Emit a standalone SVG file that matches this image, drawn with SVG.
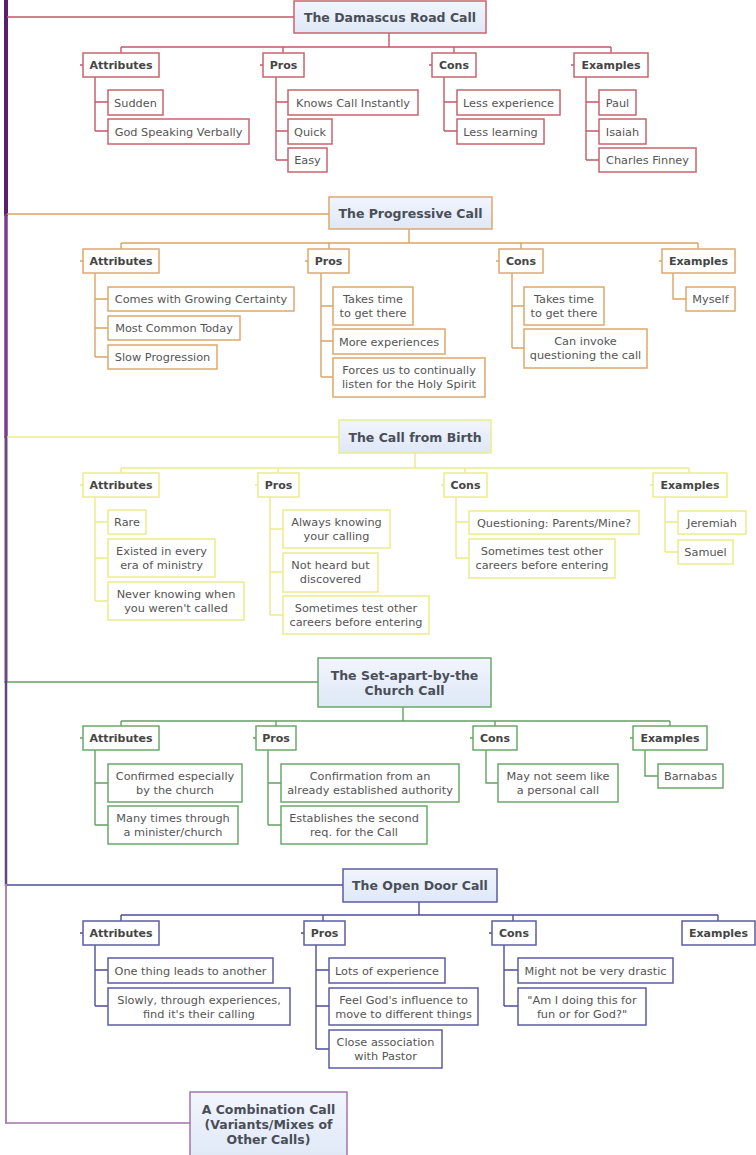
<svg xmlns="http://www.w3.org/2000/svg" width="756" height="1155" viewBox="0 0 756 1155">
<defs>
<linearGradient id="mainFill" x1="0" y1="0" x2="0" y2="1">
<stop offset="0" stop-color="#f1f5fd"/>
<stop offset="1" stop-color="#dfe8f7"/>
</linearGradient>
<style>
text{font-family:"DejaVu Sans","Verdana",sans-serif;text-anchor:middle}
.mt{font-size:12.5px;font-weight:bold;fill:#4a4e58}
.ct{font-size:11px;font-weight:bold;fill:#454545}
.lt{font-size:11.3px;fill:#555}
rect{fill:#fff;stroke-width:1.5}
rect.m{fill:url(#mainFill)}
.c1 rect{stroke:#c8646e}
.c2 rect{stroke:#dda86c}
.c3 rect{stroke:#ecec8c}
.c4 rect{stroke:#6ca86c}
.c5 rect{stroke:#5c5ca4}
.c6 rect{stroke:#a474ac}
#connectors path{fill:none;stroke-width:1.4}
#connectors .k1{stroke:#c05a66}
#connectors .k2{stroke:#d9a466}
#connectors .k3{stroke:#eaea88}
#connectors .k4{stroke:#64a064}
#connectors .k5{stroke:#4e4e98}
#connectors .k6{stroke:#a070a8}
</style>
</defs>
<rect x="0" y="0" width="756" height="1155" style="fill:#fff;stroke:none"/>

<g id="connectors">
<!-- trunk -->
<path d="M6,0 V216" style="stroke:#5a1d70;stroke-width:4"/>
<path d="M6,214 V438" style="stroke:#7c3c90;stroke-width:3.5"/>
<path d="M6,436 V683" style="stroke:#6c4a7e;stroke-width:3"/>
<path d="M6,681 V886" style="stroke:#5e4878;stroke-width:2.5"/>
<path d="M6,884 V1124" style="stroke:#a888b2;stroke-width:2"/>
<!-- section 1 -->
<path class="k1" d="M7,17 H294 M389,33 V47 M121,47 H611 M121,47 V53 M283,47 V53 M454,47 V53 M611,47 V53 M80,65 H83 M260,65 H263 M429,65 H432 M571,65 H574 M95,77 V131 M95,102 H108 M95,131 H108 M276,77 V160 M276,102 H288 M276,131 H288 M276,160 H288 M444,77 V131 M444,102 H457 M444,131 H457 M586,77 V160 M586,102 H599 M586,131 H599 M586,160 H599"/>
<!-- section 2 -->
<path class="k2" d="M7,214 H329 M409,229 V243 M121,243 H698 M121,243 V249 M329,243 V249 M521,243 V249 M698,243 V249 M80,261 H83 M305,261 H308 M496,261 H499 M659,261 H662 M95,273 V357 M95,299 H108 M95,328 H108 M95,357 H108 M321,273 V377 M321,306 H333 M321,341 H333 M321,377 H333 M512,273 V348 M512,306 H524 M512,348 H524 M673,273 V299 H686"/>
<!-- section 3 -->
<path class="k3" d="M7,437 H339 M415,453 V468 M121,468 H689 M121,468 V473 M278,468 V473 M465,468 V473 M689,468 V473 M80,485 H83 M255,485 H258 M441,485 H444 M650,485 H653 M95,497 V601 M95,522 H108 M95,558 H108 M95,601 H108 M270,497 V615 M270,529 H283 M270,572 H283 M270,615 H283 M456,497 V558 M456,522 H469 M456,558 H469 M665,497 V552 M665,522 H678 M665,552 H678"/>
<!-- section 4 -->
<path class="k4" d="M7,682 H318 M403,707 V721 M121,721 H670 M121,721 V726 M276,721 V726 M495,721 V726 M670,721 V726 M80,738 H83 M253,738 H256 M470,738 H473 M630,738 H633 M95,750 V825 M95,783 H108 M95,825 H108 M268,750 V825 M268,783 H281 M268,825 H281 M486,750 V783 H498 M645,750 V776 H658"/>
<!-- section 5 -->
<path class="k5" d="M7,885 H343 M419,902 V915 M121,915 H718 M121,915 V921 M323,915 V921 M513,915 V921 M718,915 V921 M80,933 H83 M301,933 H304 M489,933 H492 M95,945 V1006 M95,970 H108 M95,1006 H108 M316,945 V1049 M316,970 H329 M316,1006 H329 M316,1049 H329 M504,945 V1006 M504,970 H518 M504,1006 H518"/>
<!-- section 6 -->
<path class="k6" d="M7,1123 H190"/>
</g>

<!-- ===== Section 1 ===== -->
<g class="c1">
<g id="damascus"><rect class="m" x="294" y="1" width="192" height="32"/><text class="mt" x="390" y="21.5">The Damascus Road Call</text></g>
<g id="d-attributes"><rect x="83" y="53" width="76" height="24"/><text class="ct" x="121" y="69">Attributes</text></g>
<g id="d-pros"><rect x="263" y="53" width="41" height="24"/><text class="ct" x="283.5" y="69">Pros</text></g>
<g id="d-cons"><rect x="432" y="53" width="44" height="24"/><text class="ct" x="454" y="69">Cons</text></g>
<g id="d-examples"><rect x="574" y="53" width="74" height="24"/><text class="ct" x="611" y="69">Examples</text></g>
<g id="d-sudden"><rect x="108" y="90" width="55" height="25"/><text class="lt" x="135.5" y="106.5">Sudden</text></g>
<g id="d-verbally"><rect x="108" y="119" width="141" height="25"/><text class="lt" x="178.5" y="135.5">God Speaking Verbally</text></g>
<g id="d-knows"><rect x="288" y="90" width="130" height="25"/><text class="lt" x="353" y="106.5">Knows Call Instantly</text></g>
<g id="d-quick"><rect x="288" y="119" width="44" height="25"/><text class="lt" x="310" y="135.5">Quick</text></g>
<g id="d-easy"><rect x="288" y="148" width="39" height="24"/><text class="lt" x="307.5" y="164">Easy</text></g>
<g id="d-lessexp"><rect x="457" y="90" width="103" height="25"/><text class="lt" x="508.5" y="106.5">Less experience</text></g>
<g id="d-lesslearn"><rect x="457" y="119" width="87" height="25"/><text class="lt" x="500.5" y="135.5">Less learning</text></g>
<g id="d-paul"><rect x="599" y="90" width="37" height="25"/><text class="lt" x="617.5" y="106.5">Paul</text></g>
<g id="d-isaiah"><rect x="599" y="119" width="47" height="25"/><text class="lt" x="622.5" y="135.5">Isaiah</text></g>
<g id="d-finney"><rect x="599" y="148" width="97" height="24"/><text class="lt" x="647.5" y="164">Charles Finney</text></g>
</g>

<!-- ===== Section 2 ===== -->
<g class="c2">
<g id="progressive"><rect class="m" x="329" y="197" width="163" height="32"/><text class="mt" x="410.5" y="218">The Progressive Call</text></g>
<g id="p-attributes"><rect x="83" y="249" width="76" height="24"/><text class="ct" x="121" y="265">Attributes</text></g>
<g id="p-pros"><rect x="308" y="249" width="41" height="24"/><text class="ct" x="328.5" y="265">Pros</text></g>
<g id="p-cons"><rect x="499" y="249" width="44" height="24"/><text class="ct" x="521" y="265">Cons</text></g>
<g id="p-examples"><rect x="662" y="249" width="73" height="24"/><text class="ct" x="698.5" y="265">Examples</text></g>
<g id="p-certainty"><rect x="108" y="287" width="186" height="24"/><text class="lt" x="201" y="303">Comes with Growing Certainty</text></g>
<g id="p-common"><rect x="108" y="316" width="132" height="24"/><text class="lt" x="174" y="332">Most Common Today</text></g>
<g id="p-slow"><rect x="108" y="345" width="109" height="24"/><text class="lt" x="162.5" y="361">Slow Progression</text></g>
<g id="p-pro-time"><rect x="333" y="287" width="80" height="38"/><text class="lt" x="373" y="303">Takes time</text><text class="lt" x="373" y="317">to get there</text></g>
<g id="p-moreexp"><rect x="333" y="329" width="112" height="25"/><text class="lt" x="389" y="345.5">More experiences</text></g>
<g id="p-forces"><rect x="333" y="358" width="152" height="39"/><text class="lt" x="409" y="374">Forces us to continually</text><text class="lt" x="409" y="388">listen for the Holy Spirit</text></g>
<g id="p-con-time"><rect x="524" y="287" width="80" height="38"/><text class="lt" x="564" y="303">Takes time</text><text class="lt" x="564" y="317">to get there</text></g>
<g id="p-invoke"><rect x="524" y="329" width="123" height="39"/><text class="lt" x="585.5" y="345">Can invoke</text><text class="lt" x="585.5" y="359">questioning the call</text></g>
<g id="p-myself"><rect x="686" y="287" width="49" height="24"/><text class="lt" x="710.5" y="303">Myself</text></g>
</g>

<!-- ===== Section 3 ===== -->
<g class="c3">
<g id="birth"><rect class="m" x="339" y="420" width="152" height="33"/><text class="mt" x="415" y="441.5">The Call from Birth</text></g>
<g id="b-attributes"><rect x="83" y="473" width="76" height="24"/><text class="ct" x="121" y="489">Attributes</text></g>
<g id="b-pros"><rect x="258" y="473" width="41" height="24"/><text class="ct" x="278.5" y="489">Pros</text></g>
<g id="b-cons"><rect x="444" y="473" width="43" height="24"/><text class="ct" x="465.5" y="489">Cons</text></g>
<g id="b-examples"><rect x="653" y="473" width="74" height="24"/><text class="ct" x="690" y="489">Examples</text></g>
<g id="b-rare"><rect x="108" y="510" width="38" height="24"/><text class="lt" x="127" y="526">Rare</text></g>
<g id="b-existed"><rect x="108" y="539" width="107" height="38"/><text class="lt" x="161.5" y="555">Existed in every</text><text class="lt" x="161.5" y="569">era of ministry</text></g>
<g id="b-never"><rect x="108" y="582" width="136" height="38"/><text class="lt" x="176" y="598">Never knowing when</text><text class="lt" x="176" y="612">you weren't called</text></g>
<g id="b-always"><rect x="283" y="510" width="107" height="38"/><text class="lt" x="336.5" y="526">Always knowing</text><text class="lt" x="336.5" y="540">your calling</text></g>
<g id="b-notheard"><rect x="283" y="553" width="95" height="39"/><text class="lt" x="330.5" y="569">Not heard but</text><text class="lt" x="330.5" y="583">discovered</text></g>
<g id="b-pro-test"><rect x="283" y="596" width="146" height="38"/><text class="lt" x="356" y="612">Sometimes test other</text><text class="lt" x="356" y="626">careers before entering</text></g>
<g id="b-questioning"><rect x="469" y="511" width="170" height="23"/><text class="lt" x="554" y="527">Questioning: Parents/Mine?</text></g>
<g id="b-con-test"><rect x="469" y="539" width="146" height="39"/><text class="lt" x="542" y="555">Sometimes test other</text><text class="lt" x="542" y="569">careers before entering</text></g>
<g id="b-jeremiah"><rect x="678" y="511" width="68" height="23"/><text class="lt" x="712" y="527">Jeremiah</text></g>
<g id="b-samuel"><rect x="678" y="540" width="55" height="24"/><text class="lt" x="705.5" y="556">Samuel</text></g>
</g>

<!-- ===== Section 4 ===== -->
<g class="c4">
<g id="setapart"><rect class="m" x="318" y="658" width="173" height="49"/><text class="mt" x="404.5" y="679.5">The Set-apart-by-the</text><text class="mt" x="404.5" y="694.5">Church Call</text></g>
<g id="s-attributes"><rect x="83" y="726" width="76" height="24"/><text class="ct" x="121" y="742">Attributes</text></g>
<g id="s-pros"><rect x="256" y="726" width="40" height="24"/><text class="ct" x="276" y="742">Pros</text></g>
<g id="s-cons"><rect x="473" y="726" width="44" height="24"/><text class="ct" x="495" y="742">Cons</text></g>
<g id="s-examples"><rect x="633" y="726" width="74" height="24"/><text class="ct" x="670" y="742">Examples</text></g>
<g id="s-confirmed"><rect x="108" y="764" width="134" height="38"/><text class="lt" x="175" y="780">Confirmed especially</text><text class="lt" x="175" y="794">by the church</text></g>
<g id="s-many"><rect x="108" y="806" width="130" height="38"/><text class="lt" x="173" y="822">Many times through</text><text class="lt" x="173" y="836">a minister/church</text></g>
<g id="s-confirmation"><rect x="281" y="764" width="178" height="38"/><text class="lt" x="370" y="780">Confirmation from an</text><text class="lt" x="370" y="794">already established authority</text></g>
<g id="s-establishes"><rect x="281" y="806" width="146" height="38"/><text class="lt" x="354" y="822">Establishes the second</text><text class="lt" x="354" y="836">req. for the Call</text></g>
<g id="s-personal"><rect x="498" y="764" width="120" height="38"/><text class="lt" x="558" y="780">May not seem like</text><text class="lt" x="558" y="794">a personal call</text></g>
<g id="s-barnabas"><rect x="658" y="764" width="65" height="24"/><text class="lt" x="690.5" y="780">Barnabas</text></g>
</g>

<!-- ===== Section 5 ===== -->
<g class="c5">
<g id="opendoor"><rect class="m" x="343" y="869" width="154" height="33"/><text class="mt" x="420" y="890">The Open Door Call</text></g>
<g id="o-attributes"><rect x="83" y="921" width="76" height="24"/><text class="ct" x="121" y="937">Attributes</text></g>
<g id="o-pros"><rect x="304" y="921" width="41" height="24"/><text class="ct" x="324.5" y="937">Pros</text></g>
<g id="o-cons"><rect x="492" y="921" width="44" height="24"/><text class="ct" x="514" y="937">Cons</text></g>
<g id="o-examples"><rect x="682" y="921" width="73" height="24"/><text class="ct" x="718.5" y="937">Examples</text></g>
<g id="o-onething"><rect x="108" y="958" width="165" height="25"/><text class="lt" x="190.5" y="974.5">One thing leads to another</text></g>
<g id="o-slowly"><rect x="108" y="988" width="182" height="37"/><text class="lt" x="199" y="1003.5">Slowly, through experiences,</text><text class="lt" x="199" y="1017.5">find it's their calling</text></g>
<g id="o-lots"><rect x="329" y="958" width="116" height="25"/><text class="lt" x="387" y="974.5">Lots of experience</text></g>
<g id="o-feel"><rect x="329" y="988" width="149" height="37"/><text class="lt" x="403.5" y="1003.5">Feel God's influence to</text><text class="lt" x="403.5" y="1017.5">move to different things</text></g>
<g id="o-close"><rect x="329" y="1030" width="113" height="38"/><text class="lt" x="385.5" y="1046">Close association</text><text class="lt" x="385.5" y="1060">with Pastor</text></g>
<g id="o-drastic"><rect x="518" y="958" width="155" height="25"/><text class="lt" x="595.5" y="974.5">Might not be very drastic</text></g>
<g id="o-fun"><rect x="518" y="988" width="128" height="37"/><text class="lt" x="582" y="1003.5">"Am I doing this for</text><text class="lt" x="582" y="1017.5">fun or for God?"</text></g>
</g>

<!-- ===== Section 6 ===== -->
<g class="c6">
<g id="combination"><rect class="m" x="190" y="1092" width="157" height="72"/><text class="mt" x="268.5" y="1113.5">A Combination Call</text><text class="mt" x="268.5" y="1128.5">(Variants/Mixes of</text><text class="mt" x="268.5" y="1143.5">Other Calls)</text></g>
</g>
</svg>
